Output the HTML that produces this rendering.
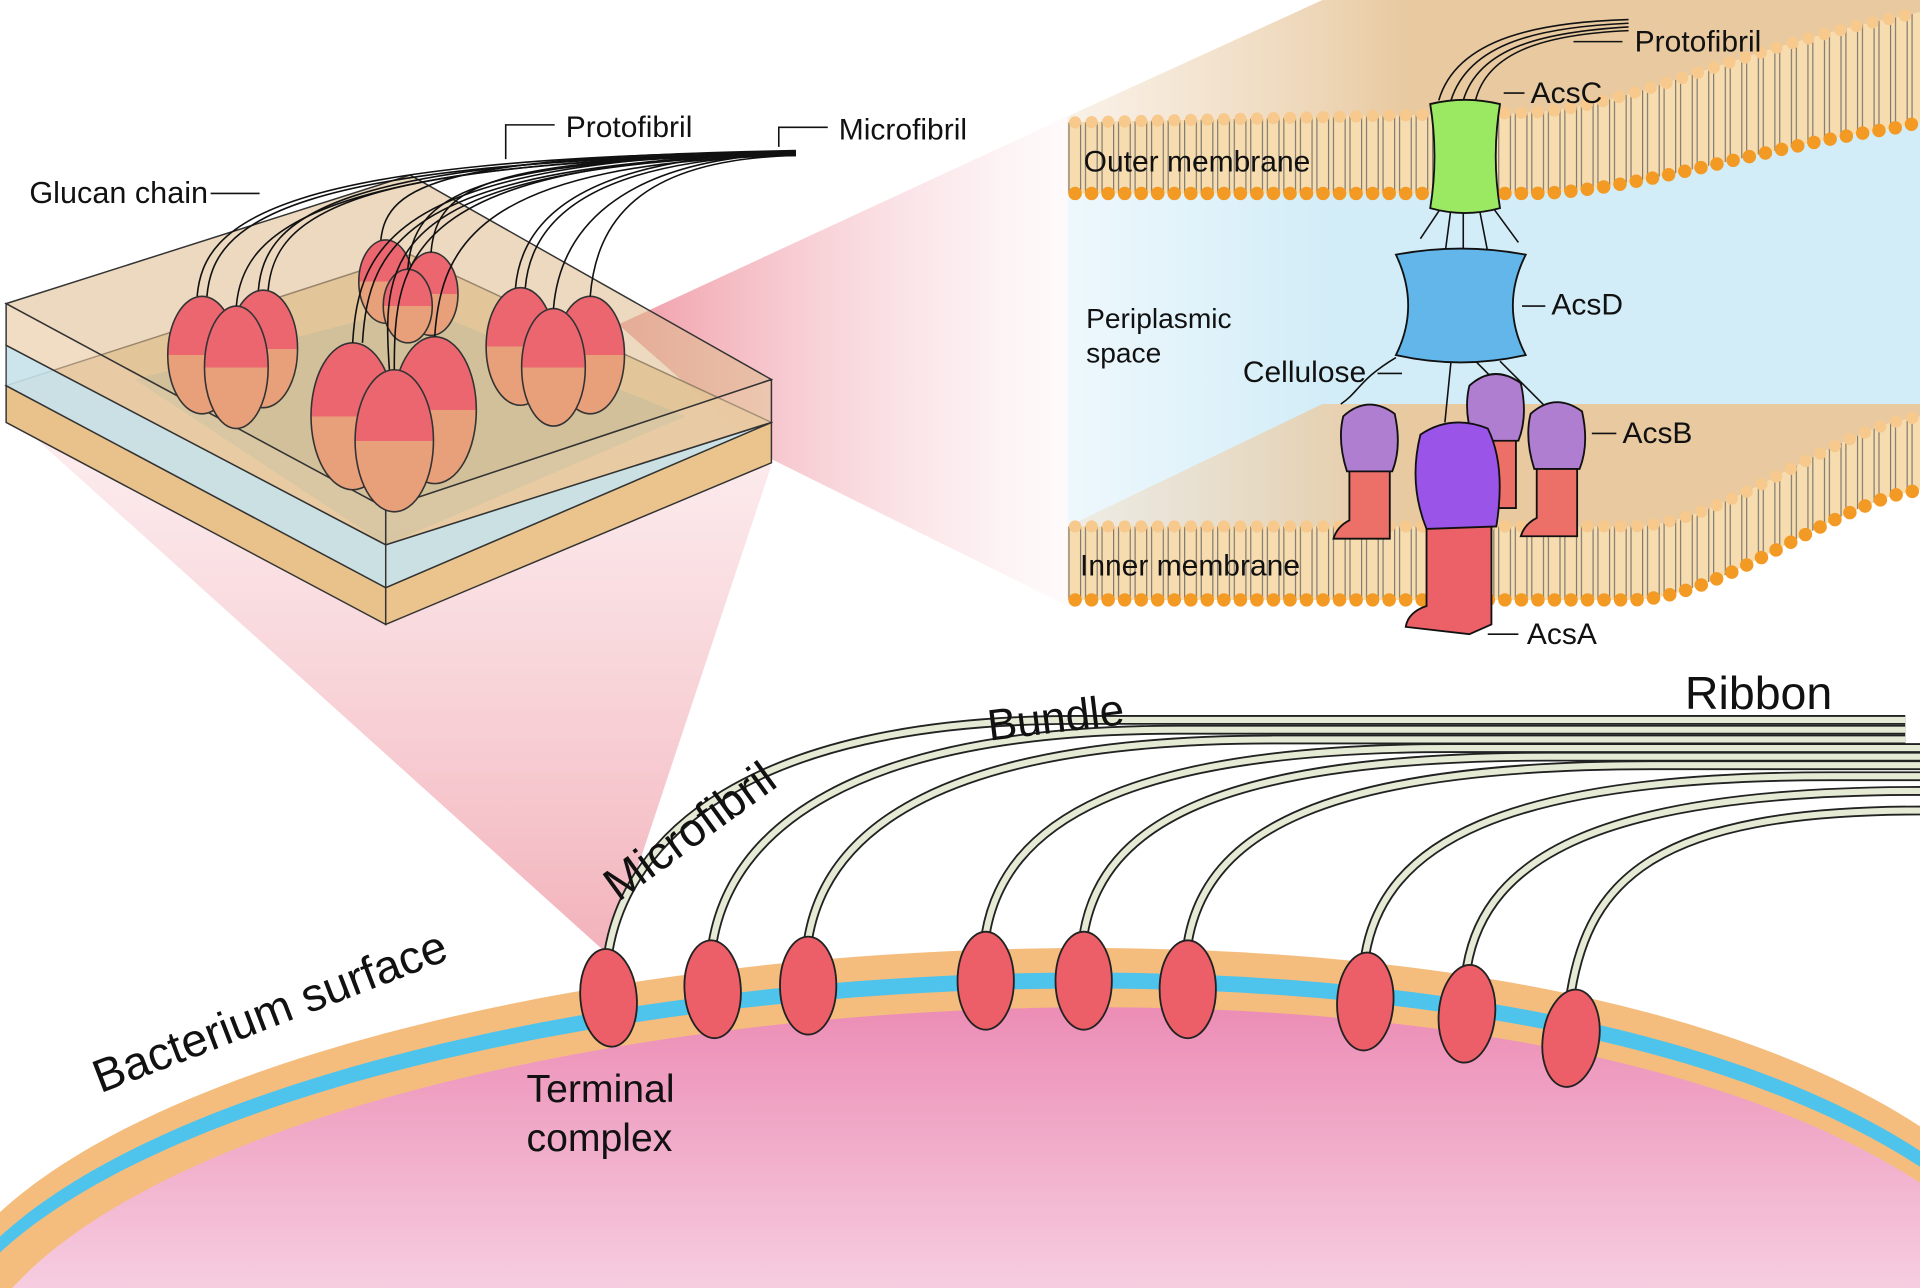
<!DOCTYPE html>
<html><head><meta charset="utf-8"><style>
html,body{margin:0;padding:0;background:#fff;}
svg{display:block;}
text{font-family:"Liberation Sans",sans-serif;fill:#111;}
</style></head><body>
<svg xmlns="http://www.w3.org/2000/svg" xmlns:xlink="http://www.w3.org/1999/xlink" width="1920" height="1288" viewBox="0 0 1568 1052" preserveAspectRatio="none">
<defs>
<linearGradient id="pink" x1="0" y1="0" x2="0" y2="1"><stop offset="0" stop-color="#ec8db5"/><stop offset="1" stop-color="#f6cde0"/></linearGradient>
<linearGradient id="cone1" x1="0" y1="0" x2="0" y2="1"><stop offset="0" stop-color="#f5c2c8" stop-opacity="0.3"/><stop offset="1" stop-color="#f1a9b3" stop-opacity="0.9"/></linearGradient>
<linearGradient id="cone2" x1="0" y1="0" x2="1" y2="0"><stop offset="0" stop-color="#ef8f9c" stop-opacity="0.9"/><stop offset="1" stop-color="#f6d0d6" stop-opacity="0.1"/></linearGradient>
<linearGradient id="tanL" x1="0" y1="0" x2="1" y2="0"><stop offset="0" stop-color="#f0dcc4" stop-opacity="0.4"/><stop offset="0.4" stop-color="#e8c9a0"/></linearGradient>
<linearGradient id="peri" x1="0" y1="0" x2="1" y2="0"><stop offset="0" stop-color="#eef8fc"/><stop offset="0.3" stop-color="#d3edf8"/></linearGradient>
<linearGradient id="te" x1="0" y1="0" x2="0" y2="1"><stop offset="0.5" stop-color="#ec6670"/><stop offset="0.5" stop-color="#e8a07a"/></linearGradient>
<pattern id="tails" patternUnits="userSpaceOnUse" width="13.5" height="400" x="878" y="0">
<path d="M4.5,0 V400 M8.5,0 V400" stroke="#666" stroke-width="0.8"/>
</pattern>
<g id="fp" fill="none">
<path d="M497,777 C512,687 607,588 877,588 L1556,588"/>
<path d="M582,770 C597,680 692,596 962,596 L1556,596"/>
<path d="M660,767 C675,677 770,604 1040,604 L1556,604"/>
<path d="M805,763 C820,673 915,611 1185,611 L1568,611"/>
<path d="M885,763 C900,673 995,618 1265,618 L1568,618"/>
<path d="M970,770 C985,680 1080,625 1350,625 L1568,625"/>
<path d="M1115,780 C1130,690 1225,634 1495,634 L1568,634"/>
<path d="M1198,790 C1213,700 1308,646 1568,646"/>
<path d="M1283,810 C1298,720 1350,662 1568,662"/>
</g>
<path id="om" d="M872,100 L1250,92 C1330,88 1420,40 1545,15 L1568,10 L1568,100 L1545,105 C1440,120 1330,158 1250,158 L872,158 Z"/>
<path id="im" d="M872,430 L1330,430 C1400,430 1470,370 1545,345 L1568,340 L1568,400 L1545,405 C1470,430 1400,490 1330,490 L872,490 Z"/>
</defs>
<path d="M0,990 C250,760 1200,680 1568,920 L1568,1052 L0,1052Z" fill="#f4bd7e"/>
<path d="M0,1010 C250,780 1200,700 1568,940 L1568,1052 L0,1052Z" fill="#4ec3ec"/>
<path d="M0,1023 C250,793 1200,713 1568,953 L1568,1052 L0,1052Z" fill="#f4bd7e"/>
<path d="M10,1052 C230,810 1200,726 1568,966 L1568,1052Z" fill="url(#pink)"/>
<polygon points="20,350 630,380 497,780" fill="url(#cone1)"/>
<polygon points="505,265 630,375 872,495 872,95" fill="url(#cone2)"/>
<use xlink:href="#fp" href="#fp" stroke="#222" stroke-width="8"/>
<use xlink:href="#fp" href="#fp" stroke="#e4ead3" stroke-width="5"/>
<g fill="#ec5f68" stroke="#222" stroke-width="1.5">
<ellipse cx="497" cy="815" rx="23" ry="40" transform="rotate(-5 497 815)"/>
<ellipse cx="582" cy="808" rx="23" ry="40" transform="rotate(-3 582 808)"/>
<ellipse cx="660" cy="805" rx="23" ry="40"/>
<ellipse cx="805" cy="801" rx="23" ry="40"/>
<ellipse cx="885" cy="801" rx="23" ry="40"/>
<ellipse cx="970" cy="808" rx="23" ry="40"/>
<ellipse cx="1115" cy="818" rx="23" ry="40" transform="rotate(3 1115 818)"/>
<ellipse cx="1198" cy="828" rx="23" ry="40" transform="rotate(5 1198 828)"/>
<ellipse cx="1283" cy="848" rx="23" ry="40" transform="rotate(8 1283 848)"/>
</g>
<text font-size="38" transform="translate(82,893) rotate(-21)">Bacterium surface</text>
<text font-size="38" transform="translate(505,737) rotate(-36)">Microfibril</text>
<text font-size="36" transform="translate(808,605) rotate(-7)">Bundle</text>
<text x="1376" y="579" font-size="38">Ribbon</text>
<text x="430" y="900" font-size="32">Terminal</text>
<text x="430" y="940" font-size="32">complex</text>
<g stroke="#333" stroke-width="1.2">
<polygon points="5,315 335,208 630,345 315,480" fill="#e9cfa6" opacity="0.9"/>
<polygon points="5,315 315,480 315,510 5,345" fill="#e8c28a"/>
<polygon points="315,480 630,345 630,378 315,510" fill="#eac48c"/>
<polygon points="5,282 315,445 315,480 5,315" fill="#c7e2ea" opacity="0.9"/>
<polygon points="315,445 630,345 315,480" fill="#c7e2ea" opacity="0.9"/>
<polygon points="110,310 315,445 560,340 340,250" fill="#a9c0a8" opacity="0.6" stroke="none"/>
</g>
<g stroke="#333" stroke-width="1.2" fill="#ddb98a" fill-opacity="0.55">
<polygon points="5,248 335,143 630,310 315,415"/>
<polygon points="5,248 315,415 315,445 5,282" fill="#e6c79c" fill-opacity="0.6"/>
<polygon points="315,415 630,310 630,345 315,445" fill="#e6c79c" fill-opacity="0.6"/>
</g>
<g fill="url(#te)" stroke="#333" stroke-width="1.3">
<ellipse cx="165" cy="290" rx="28" ry="48"/>
<ellipse cx="215" cy="285" rx="28" ry="48"/>
<ellipse cx="193" cy="300" rx="26" ry="50"/>
<ellipse cx="315" cy="230" rx="22" ry="34"/>
<ellipse cx="352" cy="240" rx="22" ry="34"/>
<ellipse cx="333" cy="250" rx="20" ry="30"/>
<ellipse cx="425" cy="283" rx="28" ry="48"/>
<ellipse cx="482" cy="290" rx="28" ry="48"/>
<ellipse cx="452" cy="300" rx="26" ry="48"/>
<ellipse cx="288" cy="340" rx="34" ry="60"/>
<ellipse cx="355" cy="335" rx="34" ry="60"/>
<ellipse cx="322" cy="360" rx="32" ry="58"/>
</g>
<g fill="none" stroke="#111" stroke-width="1.3">
<path d="M161,242 C166,182 221,128 650,124"/><path d="M169,242 C174,182 229,130 650,126"/>
<path d="M211,237 C216,177 271,128 650,125"/><path d="M219,237 C224,177 279,130 650,127"/>
<path d="M193,250 C198,190 253,130 650,126"/>
<path d="M311,196 C316,150 361,128 650,123"/><path d="M352,206 C357,150 400,130 650,125"/>
<path d="M333,220 C338,160 380,130 650,126"/>
<path d="M421,235 C426,175 481,128 650,124"/><path d="M429,235 C434,175 489,130 650,126"/>
<path d="M482,242 C487,182 520,130 650,127"/><path d="M452,252 C457,192 500,130 650,125"/>
<path d="M288,280 C293,200 320,130 650,124"/><path d="M296,280 C301,200 330,132 650,126"/>
<path d="M355,275 C360,200 390,132 650,127"/><path d="M322,302 C322,210 330,132 650,125"/>
<path d="M318,302 C312,210 310,135 650,126"/>
</g>
<g stroke="#111" stroke-width="1.3" fill="none">
<polyline points="413,130 413,102 453,102"/><polyline points="636,120 636,104 676,104"/><line x1="172" y1="158" x2="212" y2="158"/>
</g>
<text x="462" y="112" font-size="24.5">Protofibril</text>
<text x="685" y="114" font-size="24.5">Microfibril</text>
<text x="24" y="166" font-size="25">Glucan chain</text>
<path d="M872,95 L1080,0 L1568,0 L1568,10 L1545,15 C1420,40 1330,88 1250,92 L872,100Z" fill="url(#tanL)"/>
<path d="M872,158 L1250,158 C1330,158 1440,120 1545,105 L1568,100 L1568,340 L1545,345 C1470,370 1400,430 1330,430 L872,430 Z" fill="url(#peri)"/>
<path d="M872,430 L1080,330 L1568,330 L1568,340 L1545,345 C1470,370 1400,430 1330,430 Z" fill="url(#tanL)"/>
<use xlink:href="#om" href="#om" fill="#f6dcae"/>
<use xlink:href="#im" href="#im" fill="#f6dcae"/>
<use xlink:href="#om" href="#om" fill="url(#tails)"/>
<use xlink:href="#im" href="#im" fill="url(#tails)"/>
<g fill="none" stroke-width="10" stroke-linecap="round" stroke-dasharray="0 13.5">
<path d="M878,100 L1250,92 C1330,88 1420,40 1545,15 L1568,10" stroke="#f8c98c"/>
<path d="M878,158 L1250,158 C1330,158 1440,120 1545,105 L1568,100" stroke="#f39a24" stroke-width="11"/>
<path d="M878,430 L1330,430 C1400,430 1470,370 1545,345 L1568,340" stroke="#f8c98c"/>
<path d="M878,490 L1330,490 C1400,490 1470,430 1545,405 L1568,400" stroke="#f39a24" stroke-width="11"/>
</g>
<text x="885" y="140" font-size="24.5" fill="#333">Outer membrane</text>
<text x="882" y="470" font-size="24.5" fill="#333">Inner membrane</text>
<text x="887" y="268" font-size="23" fill="#444">Periplasmic</text>
<text x="887" y="296" font-size="23" fill="#444">space</text>
<g stroke="#111" stroke-width="1.5">
<g fill="none" stroke-width="1.3">
<path d="M1175,82 C1190,30 1260,18 1330,16"/><path d="M1185,82 C1200,34 1260,22 1330,19"/>
<path d="M1195,82 C1208,38 1262,26 1330,22"/><path d="M1205,82 C1215,42 1262,28 1330,25"/>
<path d="M1185,170 L1180,208 M1195,170 L1195,206 M1208,170 L1215,206 M1178,168 L1160,195 M1218,168 L1240,198"/>
<path d="M1140,292 C1110,310 1110,320 1095,330 M1185,295 L1180,345 M1205,295 L1220,310 M1225,295 C1245,315 1255,325 1265,335"/>
</g>
<path d="M1168,85 Q1196,78 1225,85 Q1218,128 1225,170 Q1196,178 1168,170 Q1175,128 1168,85Z" fill="#9be862"/>
<path d="M1140,208 Q1193,198 1246,208 Q1225,250 1246,290 Q1193,302 1140,290 Q1160,250 1140,208Z" fill="#62b6ea"/>
<g transform="translate(1097,330)"><path d="M5,45 L5,95 Q-5,100 -8,110 L38,110 L38,45Z" fill="#ec7068"/><path d="M0,10 Q20,-8 42,8 Q48,35 40,55 L3,55 Q-5,30 0,10Z" fill="#b07ed0"/></g>
<g transform="translate(1250,328)"><path d="M5,45 L5,95 Q-5,100 -8,110 L38,110 L38,45Z" fill="#ec7068"/><path d="M0,10 Q20,-8 42,8 Q48,35 40,55 L3,55 Q-5,30 0,10Z" fill="#b07ed0"/></g>
<g transform="translate(1200,305)"><path d="M5,45 L5,95 Q-5,100 -8,110 L38,110 L38,45Z" fill="#ec7068"/><path d="M0,10 Q20,-8 42,8 Q48,35 40,55 L3,55 Q-5,30 0,10Z" fill="#b07ed0"/></g>
<path d="M1165,430 L1165,495 Q1150,500 1148,512 L1200,518 L1218,510 L1218,430Z" fill="#ec6068"/>
<path d="M1160,355 Q1185,338 1215,350 Q1230,380 1222,430 L1165,432 Q1150,395 1160,355Z" fill="#9a55e8"/>
</g>
<g stroke="#111" stroke-width="1.3" fill="none">
<line x1="1285" y1="34" x2="1325" y2="34"/><line x1="1228" y1="76" x2="1245" y2="76"/>
<line x1="1243" y1="250" x2="1262" y2="250"/><line x1="1125" y1="305" x2="1145" y2="305"/>
<line x1="1300" y1="354" x2="1320" y2="354"/><line x1="1215" y1="518" x2="1240" y2="518"/>
</g>
<text x="1335" y="42" font-size="24.5">Protofibril</text>
<text x="1250" y="84" font-size="24.5">AcsC</text>
<text x="1267" y="257" font-size="24.5">AcsD</text>
<text x="1015" y="312" font-size="24.5">Cellulose</text>
<text x="1325" y="362" font-size="24.5">AcsB</text>
<text x="1247" y="526" font-size="24.5">AcsA</text>
</svg>
</body></html>
